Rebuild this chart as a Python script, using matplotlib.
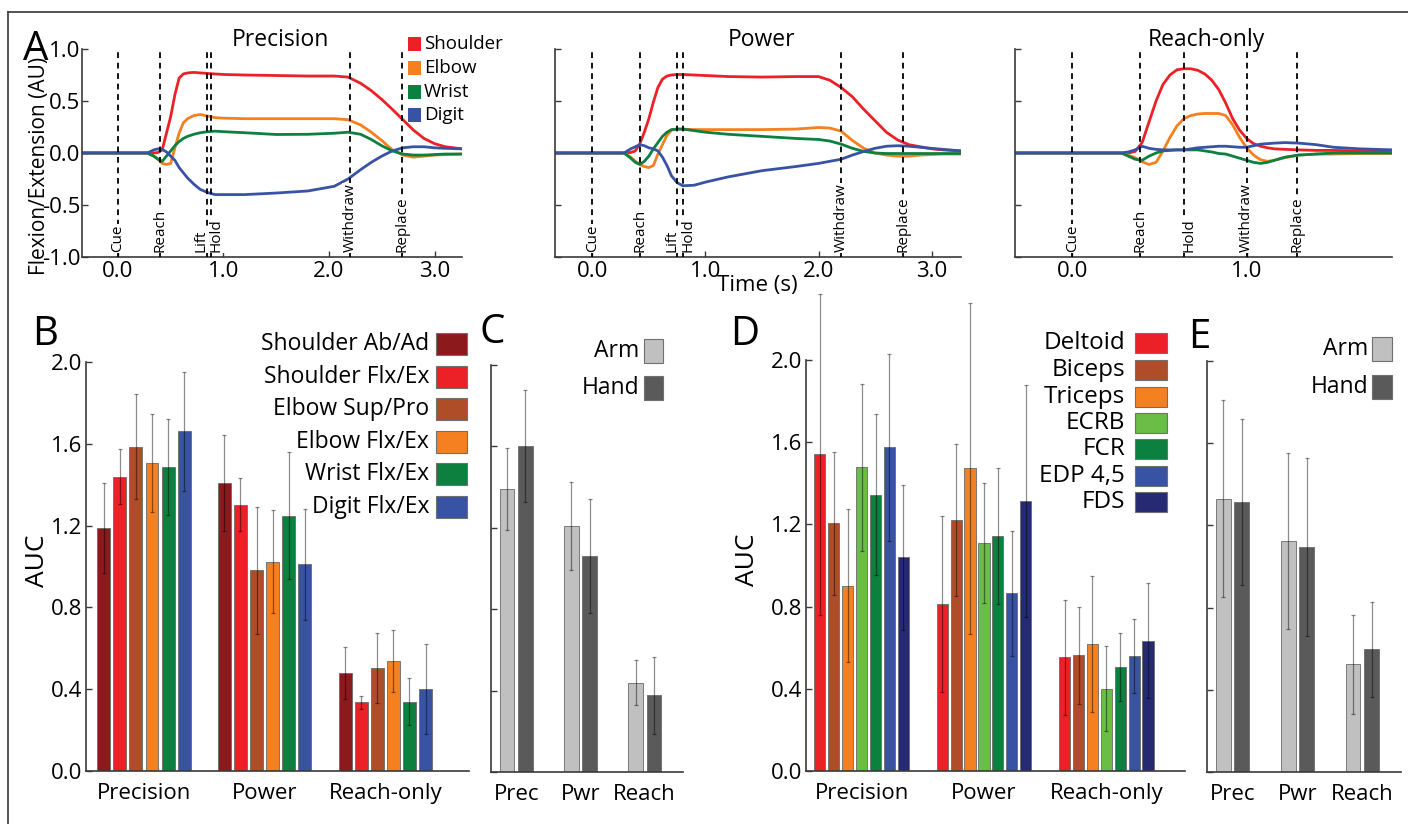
"""Joint kinematics and AUC summaries for precision, power and reach-only trials."""
import matplotlib
matplotlib.use('Agg')
import matplotlib.pyplot as plt
from matplotlib.patches import Rectangle
from matplotlib.lines import Line2D
from matplotlib.ticker import FormatStrFormatter, NullFormatter

plt.rcParams['font.family'] = ['Open Sans', 'DejaVu Sans']
plt.rcParams['axes.unicode_minus'] = False

FIG_W, FIG_H = 1408, 824

# ---- Panel A: normalised flexion/extension traces ----
JOINTS = ["Shoulder", "Elbow", "Wrist", "Digit"]
JOINT_COLORS = ["#EC2027", "#F58020", "#0C803E", "#3853A4"]

PREC_T = [-0.34, 0.28, 0.34, 0.38, 0.42, 0.46, 0.50, 0.54, 0.58, 0.62, 0.66, 0.72, 0.78, 0.85, 0.92, 1.0,
          1.2, 1.5, 1.8, 2.05, 2.18, 2.3, 2.4, 2.5, 2.6, 2.7, 2.8, 2.9, 3.0, 3.1, 3.26]
PREC_SHOULDER = [0, 0, 0, 0.005, 0.03, 0.19, 0.35, 0.56, 0.72, 0.76, 0.77, 0.775, 0.77, 0.765, 0.76, 0.755,
                 0.75, 0.745, 0.74, 0.74, 0.73, 0.67, 0.60, 0.515, 0.42, 0.32, 0.22, 0.14, 0.09, 0.06, 0.04]
PREC_ELBOW = [0, 0, -0.03, -0.06, -0.10, -0.11, -0.10, 0.05, 0.19, 0.29, 0.33, 0.36, 0.37, 0.355, 0.34, 0.335,
              0.33, 0.33, 0.33, 0.33, 0.32, 0.27, 0.20, 0.12, 0.03, -0.02, -0.04, -0.03, -0.02, -0.015, -0.01]
PREC_WRIST = [0, 0, -0.03, -0.06, -0.08, -0.03, 0.02, 0.07, 0.11, 0.14, 0.16, 0.18, 0.195, 0.205, 0.21, 0.205,
              0.195, 0.178, 0.18, 0.19, 0.20, 0.18, 0.13, 0.07, 0.02, -0.01, -0.02, -0.02, -0.015, -0.01, -0.01]
PREC_DIGIT = [0, 0, 0.03, 0.04, 0.035, 0.01, -0.03, -0.07, -0.14, -0.19, -0.24, -0.30, -0.35, -0.38, -0.40, -0.40,
              -0.40, -0.385, -0.365, -0.32, -0.25, -0.16, -0.09, -0.03, 0.02, 0.05, 0.06, 0.06, 0.05, 0.045, 0.04]
PREC_EVENTS = ["Cue", "Reach", "Lift", "Hold", "Withdraw", "Replace"]
PREC_EVENT_T = [0.0, 0.40, 0.84, 0.88, 2.20, 2.69]

POWER_T = [-0.33, 0.28, 0.34, 0.38, 0.42, 0.46, 0.50, 0.54, 0.58, 0.62, 0.66, 0.70, 0.75, 0.80, 0.90, 1.0,
           1.2, 1.5, 1.8, 2.0, 2.1, 2.2, 2.3, 2.4, 2.5, 2.6, 2.7, 2.8, 2.9, 3.0, 3.1, 3.26]
POWER_SHOULDER = [0, 0, 0.005, 0.02, 0.09, 0.20, 0.33, 0.49, 0.63, 0.71, 0.74, 0.75, 0.755, 0.755, 0.75, 0.745,
                  0.735, 0.73, 0.735, 0.735, 0.70, 0.63, 0.54, 0.42, 0.31, 0.20, 0.125, 0.08, 0.06, 0.04, 0.03, 0.02]
POWER_ELBOW = [0, 0, -0.04, -0.08, -0.11, -0.13, -0.14, -0.12, -0.01, 0.08, 0.17, 0.22, 0.23, 0.23, 0.225, 0.225,
               0.225, 0.225, 0.23, 0.245, 0.24, 0.21, 0.12, 0.045, 0.0, -0.02, -0.03, -0.03, -0.02, -0.015, -0.01, -0.01]
POWER_WRIST = [0, 0, -0.05, -0.09, -0.11, -0.08, -0.03, 0.04, 0.10, 0.16, 0.20, 0.225, 0.23, 0.23, 0.215, 0.20,
               0.18, 0.16, 0.14, 0.13, 0.115, 0.085, 0.045, 0.015, 0.0, -0.005, -0.005, -0.005, -0.005, -0.005,
               -0.005, -0.005]
POWER_DIGIT = [0, 0, 0.04, 0.06, 0.08, 0.07, 0.05, 0.04, 0.02, -0.04, -0.12, -0.22, -0.285, -0.315, -0.31, -0.28,
               -0.23, -0.17, -0.13, -0.10, -0.08, -0.06, -0.02, 0.015, 0.045, 0.065, 0.07, 0.065, 0.055, 0.045,
               0.035, 0.02]
POWER_EVENTS = ["Cue", "Reach", "Lift", "Hold", "Withdraw", "Replace"]
POWER_EVENT_T = [0.0, 0.42, 0.75, 0.80, 2.20, 2.75]

REACH_T = [-0.33, 0.28, 0.32, 0.36, 0.40, 0.44, 0.48, 0.52, 0.56, 0.60, 0.64, 0.68, 0.72, 0.76, 0.80, 0.84,
           0.88, 0.92, 0.96, 1.0, 1.04, 1.08, 1.12, 1.16, 1.22, 1.3, 1.4, 1.5, 1.65, 1.84]
REACH_SHOULDER = [0, 0, 0.0, 0.015, 0.10, 0.30, 0.50, 0.66, 0.75, 0.80, 0.81, 0.81, 0.795, 0.76, 0.70, 0.61,
                  0.48, 0.33, 0.22, 0.14, 0.09, 0.065, 0.05, 0.04, 0.035, 0.03, 0.025, 0.025, 0.02, 0.02]
REACH_ELBOW = [0, 0, -0.02, -0.045, -0.085, -0.11, -0.09, 0.02, 0.15, 0.26, 0.33, 0.36, 0.375, 0.38, 0.38, 0.38,
               0.36, 0.27, 0.15, 0.05, -0.02, -0.065, -0.08, -0.07, -0.045, -0.02, -0.01, -0.01, -0.005, -0.005]
REACH_WRIST = [0, 0, -0.03, -0.06, -0.07, -0.03, 0.0, 0.02, 0.025, 0.03, 0.03, 0.03, 0.03, 0.02, 0.01, -0.005,
               -0.01, -0.03, -0.05, -0.07, -0.09, -0.10, -0.09, -0.07, -0.04, -0.02, -0.01, 0.0, 0.0, 0.0]
REACH_DIGIT = [0, 0, 0.01, 0.03, 0.065, 0.045, 0.035, 0.03, 0.03, 0.03, 0.03, 0.04, 0.05, 0.055, 0.06, 0.065,
               0.065, 0.06, 0.055, 0.055, 0.07, 0.085, 0.09, 0.095, 0.10, 0.095, 0.08, 0.055, 0.04, 0.03]
REACH_EVENTS = ["Cue", "Reach", "Hold", "Withdraw", "Replace"]
REACH_EVENT_T = [0.0, 0.39, 0.64, 1.00, 1.29]

CONDITIONS = ["Precision", "Power", "Reach-only"]
SHORT_CONDITIONS = ["Prec", "Pwr", "Reach"]

# ---- Panel B: kinematic AUC per joint (rows = condition) ----
B_LABELS = ["Shoulder Ab/Ad", "Shoulder Flx/Ex", "Elbow Sup/Pro", "Elbow Flx/Ex", "Wrist Flx/Ex", "Digit Flx/Ex"]
B_COLORS = ["#8C191B", "#EC2027", "#AF4D28", "#F58020", "#0C803E", "#3853A4"]
B_MEANS = [[1.19, 1.44, 1.585, 1.506, 1.487, 1.661],
           [1.409, 1.303, 0.982, 1.024, 1.248, 1.01],
           [0.477, 0.335, 0.505, 0.539, 0.339, 0.399]]
B_ERRS = [[0.22, 0.135, 0.257, 0.24, 0.235, 0.29],
          [0.233, 0.13, 0.31, 0.25, 0.31, 0.27],
          [0.127, 0.032, 0.172, 0.152, 0.114, 0.22]]

# ---- Panel C: kinematic AUC, arm vs hand ----
GROUP_LABELS = ["Arm", "Hand"]
GROUP_COLORS = ["#C0C0C0", "#5A5A5A"]
C_MEANS = [[1.39, 1.603], [1.21, 1.062], [0.439, 0.377]]
C_ERRS = [[0.203, 0.275], [0.217, 0.28], [0.11, 0.19]]

# ---- Panel D: EMG AUC per muscle ----
D_LABELS = ["Deltoid", "Biceps", "Triceps", "ECRB", "FCR", "EDP 4,5", "FDS"]
D_COLORS = ["#EC2027", "#AF4D28", "#F58020", "#6ABD45", "#0C803E", "#3853A4", "#262A73"]
D_MEANS = [[1.541, 1.205, 0.902, 1.478, 1.345, 1.575, 1.04],
           [0.814, 1.221, 1.473, 1.111, 1.144, 0.865, 1.314],
           [0.553, 0.563, 0.618, 0.401, 0.506, 0.561, 0.633]]
D_ERRS = [[0.78, 0.347, 0.372, 0.406, 0.392, 0.456, 0.353],
          [0.428, 0.368, 0.805, 0.292, 0.33, 0.303, 0.563],
          [0.28, 0.235, 0.33, 0.207, 0.165, 0.18, 0.28]]

# ---- Panel E: EMG AUC, arm vs hand ----
E_MEANS = [[1.33, 1.313], [1.125, 1.093], [0.524, 0.597]]
E_ERRS = [[0.48, 0.405], [0.428, 0.433], [0.24, 0.232]]

AXIS_COLOR = "#3a3a3a"


def fx(px):
    return px / FIG_W


def fy(py):
    return 1 - py / FIG_H


def axesPx(fig, x0, y0, x1, y1):
    """Add axes given by pixel corners (top-left origin)."""
    return fig.add_axes([fx(x0), fy(y1), (x1 - x0) / FIG_W, (y1 - y0) / FIG_H])


def styleAxes(ax):
    for side in ("top", "right"):
        ax.spines[side].set_visible(False)
    for side in ("left", "bottom"):
        ax.spines[side].set_color(AXIS_COLOR)
        ax.spines[side].set_linewidth(1.2)
    ax.tick_params(direction="in", length=4, width=1.0, color=AXIS_COLOR, labelsize=16)


def drawTraces(ax, t, series, events, eventT, xlim, xticks, showY):
    styleAxes(ax)
    for vals, col in zip(series, JOINT_COLORS):
        ax.plot(t, vals, color=col, lw=2.0, solid_joinstyle="round", zorder=2)
    shift = {"Lift": -4.0, "Hold": 4.0}
    for name, et in zip(events, eventT):
        ax.axvline(et, color="black", lw=1.3, ls=(0, (3.2, 2.6)), zorder=3)
        ax.annotate(name, xy=(et, 0), xycoords=("data", "axes fraction"),
                    xytext=(shift.get(name, 0), 3.5), textcoords="offset points",
                    rotation=90, ha="center", va="bottom", fontsize=11, zorder=4,
                    bbox=dict(fc="white", ec="none", pad=0.6))
    ax.set_xlim(*xlim)
    ax.set_ylim(-1.0, 1.0)
    ax.set_xticks(xticks)
    ax.set_yticks([-1.0, -0.5, 0.0, 0.5, 1.0])
    ax.xaxis.set_major_formatter(FormatStrFormatter("%.1f"))
    if showY:
        ax.yaxis.set_major_formatter(FormatStrFormatter("%.1f"))
    else:
        ax.yaxis.set_major_formatter(NullFormatter())
    ax.tick_params(axis="x", pad=3)
    ax.tick_params(axis="y", pad=1)


def drawBars(ax, means, errs, colors, step, xlim, tickLabels, showY):
    styleAxes(ax)
    n = len(means[0])
    for g, (m, e) in enumerate(zip(means, errs)):
        xs = [g * step + i - (n - 1) / 2 for i in range(n)]
        ax.bar(xs, m, width=0.8, color=colors, edgecolor="#6a6a6a", linewidth=0.6, zorder=2)
        eb = ax.errorbar(xs, m, yerr=e, fmt="none", ecolor="black", elinewidth=0.9,
                         capsize=1.6, capthick=0.9, alpha=0.45, zorder=3)
        for art in list(eb.lines[1]) + list(eb.lines[2]):
            art.set_clip_on(False)
    ax.set_xlim(*xlim)
    ax.set_ylim(0, 2.0)
    ax.set_yticks([0.0, 0.4, 0.8, 1.2, 1.6, 2.0])
    if showY:
        ax.yaxis.set_major_formatter(FormatStrFormatter("%.1f"))
    else:
        ax.yaxis.set_major_formatter(NullFormatter())
    ax.set_xticks([g * step for g in range(len(means))])
    ax.set_xticklabels(tickLabels)
    ax.tick_params(axis="x", length=0, pad=8.5)
    ax.tick_params(axis="y", pad=2.5)


def drawKey(fig, labels, colors, rowsY, textX, boxX, boxW, boxH, size, textFirst=True, edge="#707070"):
    """Colour key made of text labels and filled squares, placed in pixels."""
    for lab, col, y in zip(labels, colors, rowsY):
        fig.text(fx(textX), fy(y), lab, ha="right" if textFirst else "left",
                 va="center", fontsize=size)
        fig.add_artist(Rectangle((fx(boxX), fy(y + boxH / 2)), boxW / FIG_W, boxH / FIG_H,
                                 transform=fig.transFigure, fc=col, ec=edge, lw=0.8))


fig = plt.figure(figsize=(FIG_W / 100, FIG_H / 100), dpi=100)

# Frame lines along the top and left of the figure
fig.add_artist(Line2D([fx(8), 1], [fy(12), fy(12)], transform=fig.transFigure, color="#444444", lw=1.3))
fig.add_artist(Line2D([fx(8), fx(8)], [0, fy(12)], transform=fig.transFigure, color="#444444", lw=1.3))

# Panel A
axA1 = axesPx(fig, 82, 49, 462, 257)
drawTraces(axA1, PREC_T, [PREC_SHOULDER, PREC_ELBOW, PREC_WRIST, PREC_DIGIT],
           PREC_EVENTS, PREC_EVENT_T, (-0.34, 3.26), [0, 1, 2, 3], True)
axA2 = axesPx(fig, 555, 49, 961, 257)
drawTraces(axA2, POWER_T, [POWER_SHOULDER, POWER_ELBOW, POWER_WRIST, POWER_DIGIT],
           POWER_EVENTS, POWER_EVENT_T, (-0.33, 3.26), [0, 1, 2, 3], False)
axA3 = axesPx(fig, 1015, 49, 1392, 257)
drawTraces(axA3, REACH_T, [REACH_SHOULDER, REACH_ELBOW, REACH_WRIST, REACH_DIGIT],
           REACH_EVENTS, REACH_EVENT_T, (-0.33, 1.835), [0, 1], False)

for title, cx in zip(CONDITIONS, [280, 762, 1206]):
    fig.text(fx(cx), fy(46.5), title, ha="center", va="baseline", fontsize=16.5)
fig.text(fx(40), fy(166), "Flexion/Extension (AU)", rotation=90, ha="center", va="center", fontsize=15)
fig.text(fx(757), fy(291), "Time (s)", ha="center", va="baseline", fontsize=16)
drawKey(fig, JOINTS, JOINT_COLORS, [44, 68, 92, 115], 424, 408, 13, 14, 13.5, textFirst=False, edge="none")

# Panel B
axB = axesPx(fig, 86, 362, 469, 771)
drawBars(axB, B_MEANS, B_ERRS, B_COLORS, 7.5, (-3.6, 20.2), CONDITIONS, True)
fig.text(fx(38), fy(561), "AUC", rotation=90, ha="center", va="center", fontsize=19)
drawKey(fig, B_LABELS, B_COLORS, [344, 377, 409, 442, 474, 507], 429, 436, 31, 22, 16.5)

# Panel C
axC = axesPx(fig, 491, 365, 683, 772)
drawBars(axC, C_MEANS, C_ERRS, GROUP_COLORS, 3.5, (-1.38, 9.09), SHORT_CONDITIONS, False)
drawKey(fig, GROUP_LABELS, GROUP_COLORS, [351, 388], 639, 644, 19, 24, 16.5)

# Panel D
axD = axesPx(fig, 806, 360, 1185, 771)
drawBars(axD, D_MEANS, D_ERRS, D_COLORS, 8.8, (-4.0, 23.26), CONDITIONS, True)
fig.text(fx(747), fy(560), "AUC", rotation=90, ha="center", va="center", fontsize=19)
drawKey(fig, D_LABELS, D_COLORS, [343, 370, 397, 423, 449, 476, 502], 1125, 1135, 32, 20, 17.5)

# Panel E
axE = axesPx(fig, 1207, 361, 1401, 772)
drawBars(axE, E_MEANS, E_ERRS, GROUP_COLORS, 3.5, (-1.38, 9.09), SHORT_CONDITIONS, False)
drawKey(fig, GROUP_LABELS, GROUP_COLORS, [349, 387], 1368, 1372, 20, 24, 16.5)

# Panel letters
for letter, x, y in [("A", 23, 60), ("B", 32, 345), ("C", 480, 343), ("D", 730, 345), ("E", 1188, 348)]:
    fig.text(fx(x), fy(y), letter, ha="left", va="baseline", fontsize=29)

fig.savefig("out.png", dpi=100)
